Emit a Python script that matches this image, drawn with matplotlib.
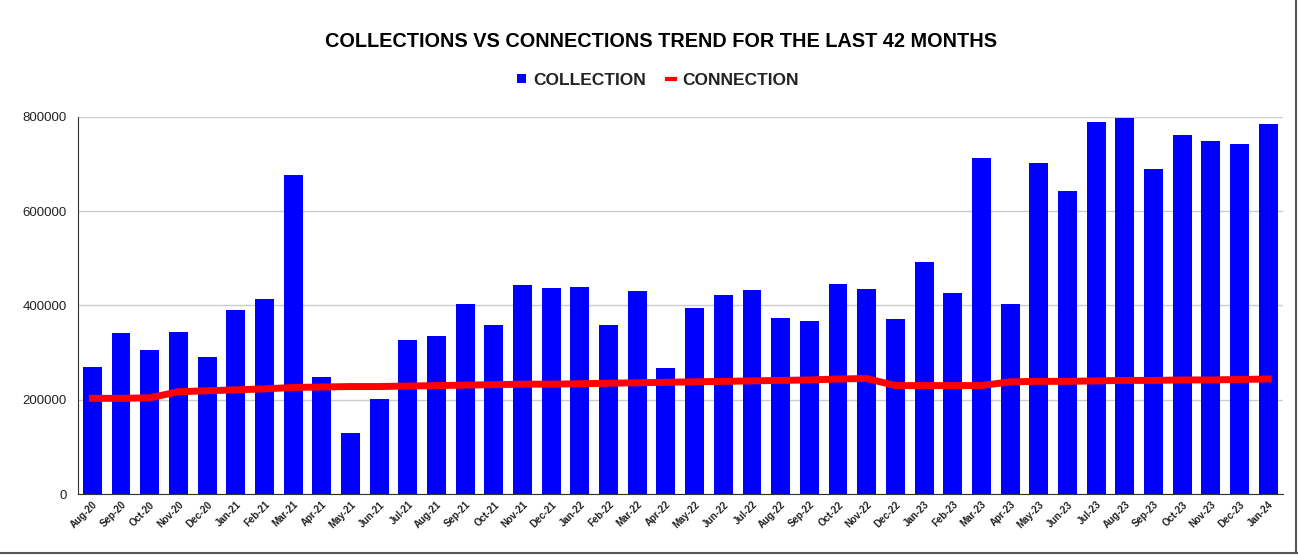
import matplotlib
matplotlib.use("Agg")
import matplotlib.pyplot as plt
from matplotlib.lines import Line2D
from matplotlib.patches import Patch

plt.rcParams['font.family'] = ['Liberation Sans', 'DejaVu Sans']

# Dados
meses = ['Aug-20', 'Sep-20', 'Oct-20', 'Nov-20', 'Dec-20', 'Jan-21', 'Feb-21', 'Mar-21',
         'Apr-21', 'May-21', 'Jun-21', 'Jul-21', 'Aug-21', 'Sep-21', 'Oct-21', 'Nov-21',
         'Dec-21', 'Jan-22', 'Feb-22', 'Mar-22', 'Apr-22', 'May-22', 'Jun-22', 'Jul-22',
         'Aug-22', 'Sep-22', 'Oct-22', 'Nov-22', 'Dec-22', 'Jan-23', 'Feb-23', 'Mar-23',
         'Apr-23', 'May-23', 'Jun-23', 'Jul-23', 'Aug-23', 'Sep-23', 'Oct-23', 'Nov-23',
         'Dec-23', 'Jan-24']

collection = [270000, 341000, 306000, 344000, 290000, 390000, 414000, 676000,
              249000, 130000, 201000, 326000, 335000, 404000, 359000, 443000,
              437000, 439000, 359000, 431000, 267000, 395000, 422000, 432000,
              374000, 368000, 446000, 434000, 372000, 493000, 427000, 713000,
              403000, 703000, 643000, 790000, 797000, 689000, 761000, 749000,
              742000, 784000]

connection = [203000, 203000, 204000, 217000, 219000, 221000, 223000, 226000,
              227000, 228000, 228000, 229000, 230000, 231000, 232000, 233000,
              233000, 234000, 235000, 236000, 237000, 238000, 239000, 240000,
              241000, 242000, 244000, 245000, 230000, 230000, 230000, 230000,
              238000, 239000, 239000, 240000, 241000, 241000, 242000, 242000,
              243000, 244000]

yticks = [0, 200000, 400000, 600000, 800000]

fig = plt.figure(figsize=(12.98, 5.57), dpi=100)
ax = fig.add_axes([0.0601, 0.1131, 0.928, 0.677])

x = list(range(len(meses)))
ax.bar(x, collection, width=0.66, color='#0000ff', zorder=2)
ax.plot(x, connection, color='#ff0000', linewidth=5, solid_joinstyle='round', zorder=3)

ax.set_xlim(-0.5, len(meses) - 0.5)
ax.set_ylim(0, 800000)
ax.set_yticks(yticks)
ax.set_yticklabels([str(v) for v in yticks], fontsize=9.5, color='#222222')
ax.set_xticks(x)
ax.set_xticklabels(meses, rotation=45, ha='right', rotation_mode='anchor',
                   fontsize=7, fontweight='bold', color='#222222')
ax.tick_params(axis='both', length=0, pad=4)
ax.tick_params(axis='y', pad=8)

ax.grid(True, axis='y', color='#cccccc', linewidth=1, zorder=0)
for lado in ['top', 'right']:
    ax.spines[lado].set_visible(False)
ax.spines['left'].set_color('#333333')
ax.spines['bottom'].set_color('#333333')

fig.text(0.509, 0.926, 'COLLECTIONS VS CONNECTIONS TREND FOR THE LAST 42 MONTHS',
         ha='center', va='center', fontsize=14.3, fontweight='bold', color='#000000')

handles = [Patch(facecolor='#0000ff', label='COLLECTION'),
           Line2D([0], [0], color='#ff0000', linewidth=3, label='CONNECTION')]
fig.legend(handles=handles, loc='center', bbox_to_anchor=(0.507, 0.856), ncol=2,
           frameon=False, prop={'size': 12.5, 'weight': 'bold'}, labelcolor='#222222',
           handlelength=0.5, handleheight=0.5, handletextpad=0.4, columnspacing=1.2)

# moldura
fig.add_artist(Line2D([0, 1], [0.007, 0.007], color='#555555', linewidth=1.5))
fig.add_artist(Line2D([0.9985, 0.9985], [0.007, 1], color='#555555', linewidth=1.5))

fig.savefig('out.png', dpi=100)
